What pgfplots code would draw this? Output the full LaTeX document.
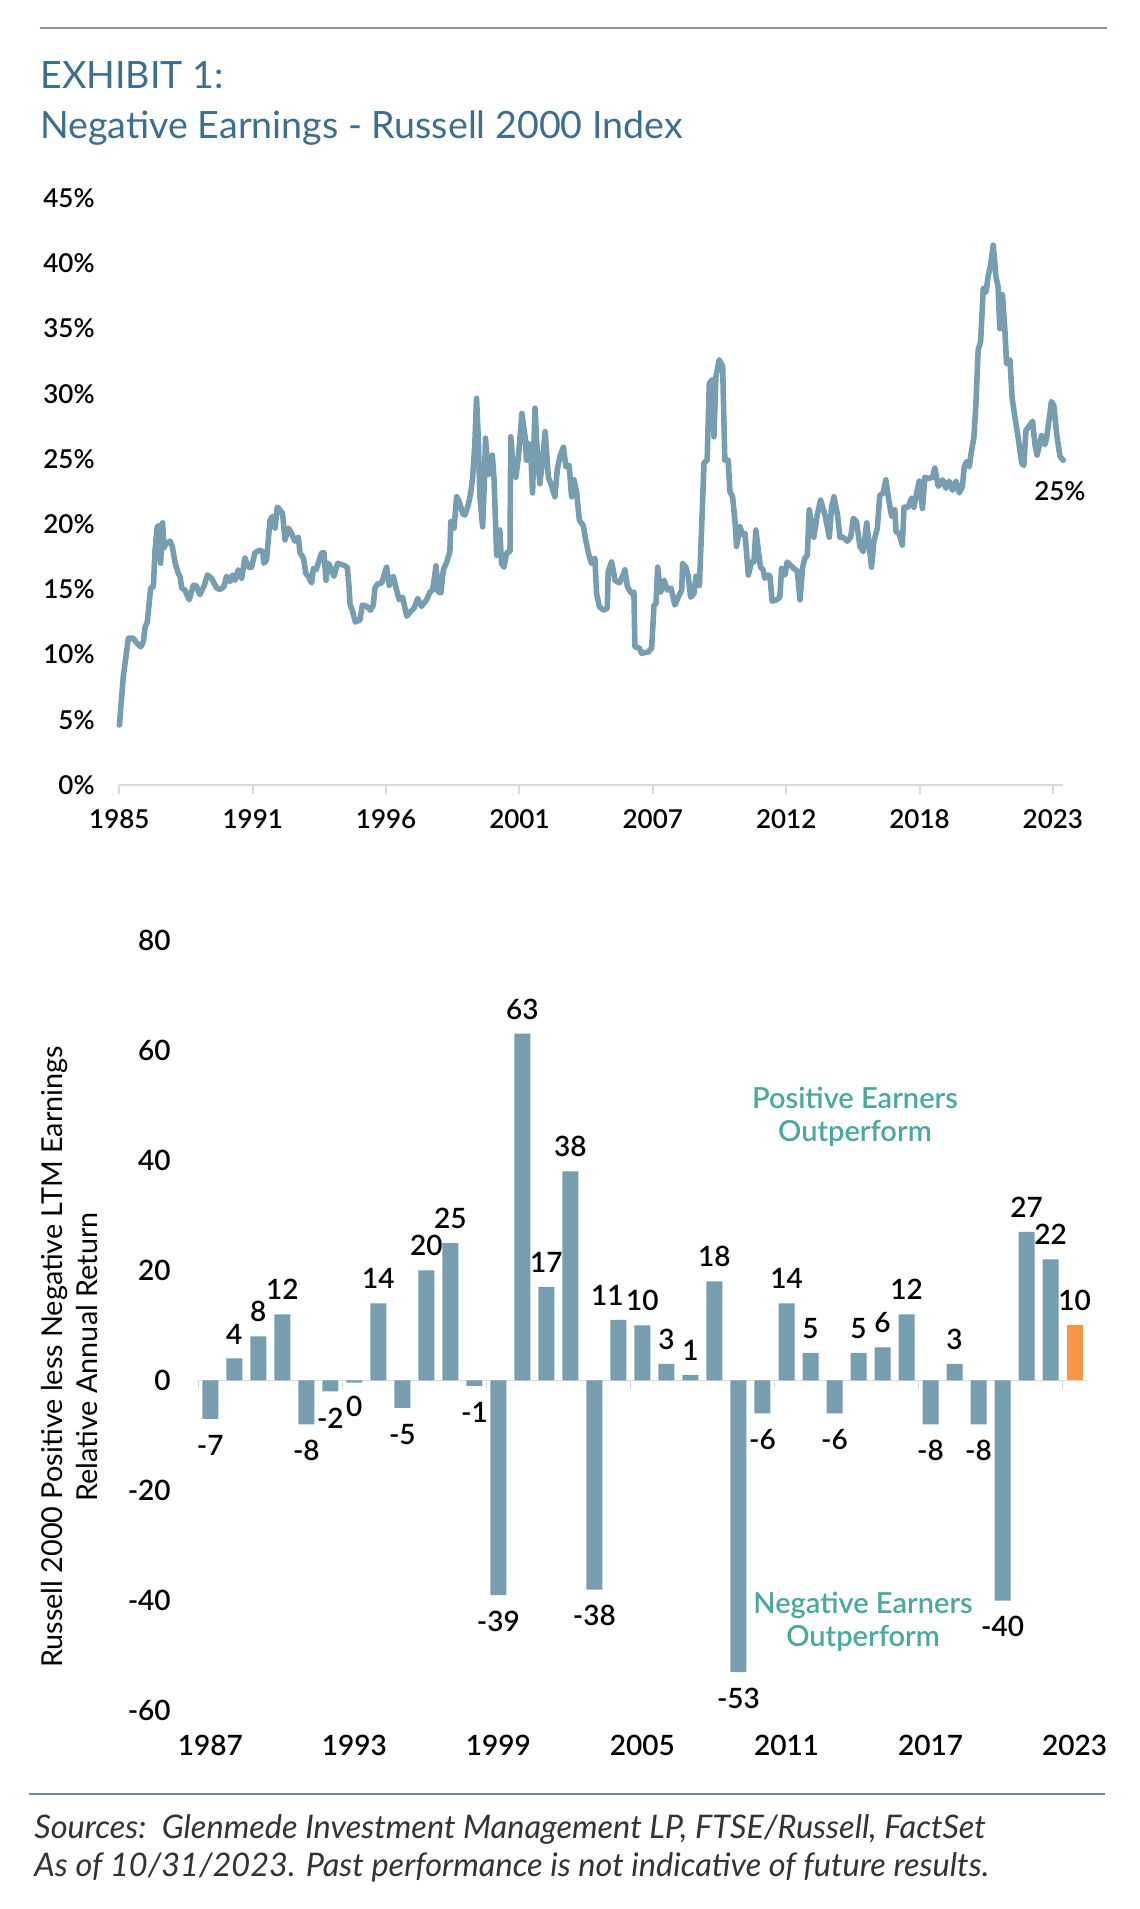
\documentclass[border=0pt]{standalone}
\usepackage{fontspec}
\setmainfont{Lato}
\IfFontExistsTF{Lato Semibold}{\newfontfamily\semifont{Lato Semibold}}{\newcommand\semifont{\bfseries}}
\usepackage{pgfplots}
\pgfplotsset{compat=1.18}
\usepackage{pgfplotstable}
\definecolor{titleblue}{HTML}{3D6E8B}
\definecolor{linecol}{HTML}{769EB0}
\definecolor{barcol}{HTML}{769EAF}
\definecolor{orangebar}{HTML}{F79646}
\definecolor{tealtxt}{HTML}{4BA89F}
\definecolor{rulegray}{HTML}{8A96A0}
\definecolor{footrule}{HTML}{7088A0}
\definecolor{axgray}{HTML}{D9D9D9}

\pgfplotstableread{
yr pct
1985.00 4.6
1985.16 8.3
1985.37 11.25
1985.57 11.25
1985.71 10.9
1985.88 10.6
1985.99 11.0
1986.06 12.1
1986.15 12.5
1986.29 15.1
1986.40 15.2
1986.47 18.0
1986.56 19.8
1986.65 19.9
1986.70 17.0
1986.78 20.1
1986.84 18.2
1986.92 18.5
1987.09 18.7
1987.18 18.3
1987.29 17.1
1987.43 16.2
1987.50 16.0
1987.57 15.1
1987.70 14.95
1987.88 14.2
1988.05 15.3
1988.16 15.3
1988.32 14.6
1988.50 15.3
1988.63 16.1
1988.80 15.85
1989.01 15.1
1989.15 15.0
1989.31 15.2
1989.42 16.0
1989.56 15.6
1989.67 16.1
1989.77 15.7
1989.90 16.5
1990.04 15.85
1990.18 17.4
1990.32 16.7
1990.45 16.7
1990.59 17.8
1990.77 18.0
1990.91 17.9
1990.96 17.0
1991.07 17.25
1991.21 20.3
1991.31 20.6
1991.42 19.7
1991.51 21.3
1991.62 21.1
1991.73 20.8
1991.83 18.8
1991.97 19.7
1992.10 19.3
1992.24 18.7
1992.38 19.0
1992.45 17.8
1992.59 17.4
1992.69 16.2
1992.79 16.0
1992.93 15.5
1993.00 16.6
1993.11 16.5
1993.20 17.0
1993.34 17.8
1993.44 17.8
1993.52 15.7
1993.62 17.0
1993.73 16.6
1993.85 16.0
1994.00 17.0
1994.17 16.9
1994.30 16.8
1994.40 16.7
1994.47 15.2
1994.51 13.9
1994.62 13.3
1994.73 12.5
1994.92 12.65
1995.02 13.8
1995.20 13.7
1995.36 13.4
1995.47 13.8
1995.54 15.1
1995.64 15.4
1995.82 15.5
1996.02 16.7
1996.13 15.3
1996.30 16.0
1996.41 15.1
1996.54 14.2
1996.68 14.4
1996.85 12.95
1997.01 13.3
1997.15 13.55
1997.30 14.3
1997.46 13.7
1997.67 14.2
1997.81 14.8
1997.92 14.95
1998.06 16.8
1998.15 14.8
1998.26 14.75
1998.36 16.5
1998.50 17.1
1998.63 17.9
1998.67 20.2
1998.80 19.7
1998.91 22.1
1999.02 21.7
1999.16 20.8
1999.25 20.7
1999.39 21.5
1999.49 22.4
1999.57 23.6
1999.66 26.2
1999.73 29.65
1999.80 26.7
1999.87 22.1
1999.98 19.8
2000.05 23.1
2000.10 26.6
2000.21 23.8
2000.28 24.7
2000.38 25.3
2000.45 23.5
2000.56 17.6
2000.69 19.55
2000.76 17.0
2000.86 16.7
2000.97 17.8
2001.11 17.9
2001.14 26.7
2001.24 24.4
2001.35 23.6
2001.46 25.2
2001.60 28.5
2001.73 26.7
2001.79 24.9
2001.86 26.2
2001.96 25.7
2002.04 22.4
2002.14 28.9
2002.23 25.7
2002.34 23.1
2002.44 24.7
2002.56 27.1
2002.69 23.6
2002.83 22.9
2002.96 22.1
2003.06 24.2
2003.17 25.2
2003.31 25.9
2003.42 24.4
2003.55 24.5
2003.65 22.1
2003.75 23.4
2003.86 22.4
2003.97 20.3
2004.13 19.9
2004.24 18.7
2004.38 17.5
2004.47 17.0
2004.61 17.4
2004.68 14.7
2004.79 13.7
2004.96 13.4
2005.12 13.55
2005.16 16.4
2005.30 17.1
2005.44 15.7
2005.62 15.5
2005.75 16.0
2005.85 16.5
2005.95 15.2
2006.12 14.7
2006.22 14.8
2006.26 10.6
2006.44 10.5
2006.54 10.1
2006.81 10.2
2006.95 10.5
2007.05 13.8
2007.13 13.9
2007.20 16.7
2007.32 14.8
2007.47 15.7
2007.59 14.95
2007.75 15.1
2007.91 13.8
2008.05 14.4
2008.19 14.95
2008.23 17.0
2008.36 16.7
2008.46 16.0
2008.56 14.4
2008.70 14.7
2008.78 16.0
2008.92 15.3
2009.01 19.55
2009.11 24.7
2009.24 24.9
2009.33 30.8
2009.46 31.1
2009.52 26.7
2009.60 31.3
2009.74 32.6
2009.88 32.1
2009.97 24.9
2010.11 24.9
2010.18 22.5
2010.29 22.1
2010.39 20.2
2010.45 18.3
2010.59 19.8
2010.70 19.2
2010.80 19.3
2010.94 16.1
2011.07 17.1
2011.17 17.1
2011.25 19.55
2011.35 18.0
2011.44 16.7
2011.55 16.5
2011.62 15.85
2011.76 16.1
2011.83 16.0
2011.92 14.1
2012.10 14.2
2012.24 14.4
2012.31 16.6
2012.45 16.1
2012.54 17.1
2012.65 16.9
2012.82 16.6
2012.96 16.4
2013.07 14.2
2013.18 16.7
2013.27 17.4
2013.37 17.6
2013.45 21.1
2013.64 19.0
2013.78 20.7
2013.92 21.85
2014.10 20.7
2014.28 19.0
2014.37 21.3
2014.47 22.1
2014.61 20.8
2014.72 19.0
2014.85 19.0
2015.02 18.7
2015.16 19.0
2015.27 20.45
2015.40 20.2
2015.54 18.3
2015.68 17.9
2015.82 20.1
2015.95 17.9
2016.02 16.7
2016.12 18.7
2016.26 19.7
2016.36 22.2
2016.50 22.4
2016.61 23.4
2016.71 22.1
2016.85 20.6
2016.98 21.1
2017.03 19.4
2017.16 19.3
2017.29 18.4
2017.36 21.3
2017.53 21.3
2017.67 22.0
2017.77 21.3
2017.88 22.4
2017.99 23.3
2018.12 21.2
2018.22 23.6
2018.36 23.5
2018.54 23.6
2018.63 24.3
2018.77 22.9
2018.95 23.4
2019.09 22.75
2019.22 23.3
2019.36 22.6
2019.50 23.3
2019.64 22.4
2019.77 22.9
2019.84 24.4
2019.94 24.8
2020.05 24.4
2020.15 25.7
2020.24 26.6
2020.32 29.0
2020.42 33.4
2020.52 34.0
2020.63 38.1
2020.74 37.8
2020.83 39.0
2020.93 39.9
2021.04 41.4
2021.15 39.0
2021.24 38.2
2021.31 35.0
2021.42 37.6
2021.52 34.9
2021.59 32.3
2021.73 32.6
2021.82 29.65
2021.93 28.25
2022.07 26.6
2022.21 24.7
2022.30 24.5
2022.39 27.2
2022.52 27.5
2022.66 27.9
2022.76 26.1
2022.85 25.3
2022.96 26.2
2023.03 26.8
2023.17 26.1
2023.24 26.6
2023.35 28.1
2023.44 29.4
2023.54 29.1
2023.65 27.0
2023.79 25.2
2023.93 24.9
}\linedata

\pgfplotstableread{
x y lab dx ys
0 -7 -7 0 -25.5
1 4 4 0 0
2 8 8 0 0
3 12 12 0 0
4 -8 -8 0 -25.5
5 -2 -2 0 -25.5
6 -0.4 0 0 -24
7 14 14 0 0
8 -5 -5 0 -25.5
9 20 20 0 0
10 25 25 0 0
11 -1 -1 0 -25.5
12 -39 -39 0 -25.5
13 63 63 0 0
14 17 17 0 0
15 38 38 0 0
16 -38 -38 0 -25.5
17 11 11 -5.5 0
18 10 10 0 0
19 3 3 0 0
20 1 1 0 0
21 18 18 0 0
22 -53 -53 0 -25.5
23 -6 -6 0 -25.5
24 14 14 0 0
25 5 5 0 0
26 -6 -6 0 -25.5
27 5 5 0 0
28 6 6 0 0
29 12 12 0 0
30 -8 -8 0 -25.5
31 3 3 0 0
32 -8 -8 0 -25.5
33 -40 -40 0 -25.5
34 27 27 0 0
35 22 22 0 0
}\bardata

\begin{document}
\begin{tikzpicture}
\useasboundingbox (0,0) rectangle (569.5pt,954.5pt);
% top rule and titles
\draw[rulegray, line width=0.9pt] (20pt,940.5pt) -- (553.5pt,940.5pt);
\node[anchor=base west, inner sep=0pt, text=titleblue, font=\fontsize{18.8}{22}\selectfont] at (20pt,910.3pt) {EXHIBIT 1:};
\node[anchor=base west, inner sep=0pt, text=titleblue, font=\fontsize{18.8}{22}\selectfont] at (20pt,885.3pt) {Negative Earnings - Russell 2000 Index};

% top line chart
\begin{axis}[
  at={(59.7pt,562pt)}, anchor=south west,
  scale only axis, width=471.95pt, height=293.4pt,
  xmin=1985, xmax=2023.93, ymin=0, ymax=45,
  clip=false,
  axis x line=bottom, axis y line=left,
  x axis line style={-, draw=axgray, line width=1pt},
  y axis line style={draw=none},
  tick align=outside, major tick length=4.5pt,
  xtick style={draw=axgray, line width=1pt},
  ytick style={draw=none},
  xtick={1985,1990.5,1996,2001.5,2007,2012.5,2018,2023.5},
  xticklabels={1985,1991,1996,2001,2007,2012,2018,2023},
  ytick={0,5,...,45},
  /pgf/number format/assume math mode=true,
  yticklabel={\pgfmathprintnumber{\tick}\%},
  tick label style={font=\semifont\fontsize{13}{15}\selectfont, text=black},
  yticklabel style={anchor=east, inner sep=0pt, xshift=-7.7pt},
  xticklabel style={anchor=north, inner sep=0pt, yshift=-7.8pt},
]
\addplot[linecol, line width=2.8pt, line join=round, line cap=round] table[x=yr, y=pct] {\linedata};
\node[font=\semifont\fontsize{13}{15}\selectfont] at (axis cs:2023.79,22.5) {25\%};
\end{axis}

% bottom bar chart
\begin{axis}[
  at={(99.15pt,99.2pt)}, anchor=south west,
  scale only axis, width=444.15pt, height=385.2pt,
  xmin=-0.5, xmax=36.5, ymin=-60, ymax=80,
  clip=false,
  axis x line=bottom, axis y line=left,
  x axis line style={draw=none}, y axis line style={draw=none},
  major tick length=0pt,
  xtick style={draw=none}, ytick style={draw=none},
  xtick={0,6,...,36},
  xticklabels={1987,1993,1999,2005,2011,2017,2023},
  ytick={-60,-40,...,80},
  /pgf/number format/assume math mode=true,
  tick label style={font=\semifont\fontsize{14}{16}\selectfont, text=black},
  yticklabel style={anchor=east, inner sep=0pt, xshift=-13.6pt},
  xticklabel style={anchor=north, inner sep=0pt, yshift=-12.2pt},
  ybar, bar width=8pt, bar shift=0pt,
  point meta=explicit symbolic,
  nodes near coords,
  nodes near coords style={font=\semifont\fontsize{14}{16}\selectfont, inner xsep=0pt, inner ysep=7pt, text=black},
]
\draw[axgray, line width=0.7pt] (axis cs:-0.5,0) -- (axis cs:36.5,0);
\pgfplotsinvokeforeach{-0.5,5.5,11.5,17.5,23.5,29.5,35.5}{
  \draw[axgray, line width=0.7pt] (axis cs:#1,0) -- ([yshift=-4.5pt]axis cs:#1,0);
}
\addplot[fill=barcol, draw=none,
  visualization depends on={\thisrow{dx} \as \ldx},
  visualization depends on={\thisrow{ys} \as \lys},
  every node near coord/.append style={xshift=\ldx*1pt, yshift=\lys*1pt}]
  table[x=x, y=y, meta=lab] {\bardata};
\addplot[fill=orangebar, draw=none] coordinates {(36,10) [10]};
\node[align=center, text=tealtxt, font=\semifont\fontsize{14.5}{16.5}\selectfont] at (axis cs:26.85,48) {Positive Earners\\Outperform};
\node[align=center, text=tealtxt, font=\semifont\fontsize{14.5}{16.5}\selectfont] at (axis cs:27.19,-43.9) {Negative Earners\\Outperform};
\end{axis}

% y label of bar chart
\node[rotate=90, align=center, font=\fontsize{14.4}{17.5}\selectfont] at (34.8pt,276pt) {Russell 2000 Positive less Negative LTM Earnings\\Relative Annual Return};

% footer
\draw[footrule, line width=0.8pt] (14.5pt,57.5pt) -- (552.5pt,57.5pt);
\node[anchor=base west, inner sep=0pt, text=black!80, font=\itshape\fontsize{16.25}{18}\selectfont] at (17pt,35pt) {Sources:\ \ Glenmede Investment Management LP, FTSE/Russell, FactSet};
\node[anchor=base west, inner sep=0pt, text=black!80, font=\itshape\fontsize{16.25}{18}\selectfont] at (17pt,16.1pt) {As of 10/31/2023. Past performance is not indicative of future results.};
\end{tikzpicture}
\end{document}
